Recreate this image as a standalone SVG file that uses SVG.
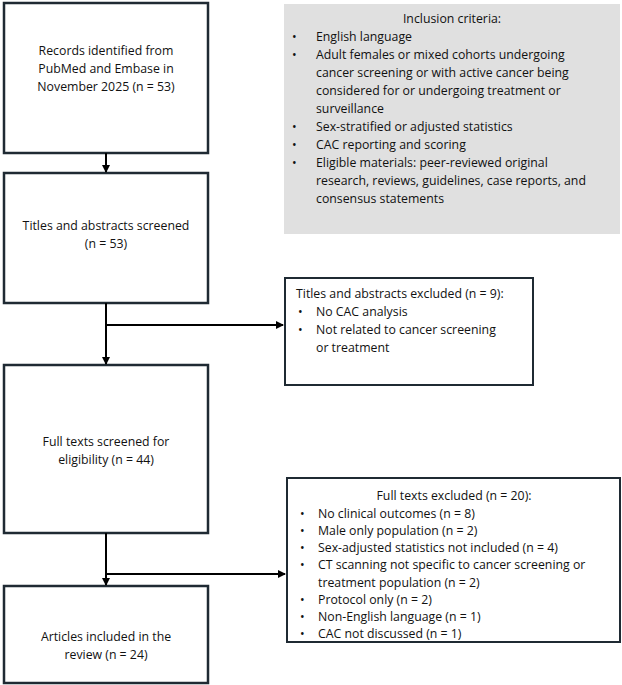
<svg xmlns="http://www.w3.org/2000/svg" width="622" height="685" viewBox="0 0 622 685">
<style>
text{font-family:"Open Sans","Liberation Sans",Arial,sans-serif;font-size:12.3px;fill:#111}
.c{text-anchor:middle}
.box{fill:#fff;stroke:#1f2a33;stroke-width:2.5}
.thin{fill:#fff;stroke:#1f2a33;stroke-width:2}
.ln{stroke:#000;stroke-width:2;fill:none}
</style>
<defs><marker id="ah" markerWidth="8" markerHeight="8" refX="7" refY="4" orient="auto" markerUnits="userSpaceOnUse"><path d="M0,0 L8,4 L0,8 z" fill="#000"/></marker></defs>
<rect width="622" height="685" fill="#fff"/>
<g id="n1"><rect class="box" x="4" y="3" width="204" height="150"/>
<text class="c" x="106" y="55">Records identified from</text><text class="c" x="106" y="73">PubMed and Embase in</text><text class="c" x="106" y="91">November 2025 (n = 53)</text></g>
<g id="n2"><rect class="box" x="4" y="173" width="204" height="130"/>
<text class="c" x="106" y="230">Titles and abstracts screened</text><text class="c" x="106" y="248">(n = 53)</text></g>
<g id="n3"><rect class="box" x="4" y="365" width="204" height="168"/>
<text class="c" x="106" y="446">Full texts screened for</text><text class="c" x="106" y="464">eligibility (n = 44)</text></g>
<g id="n4"><rect class="box" x="4" y="586" width="204" height="97"/>
<text class="c" x="106" y="641">Articles included in the</text><text class="c" x="106" y="659">review  (n = 24)</text></g>
<g id="inc"><rect x="284" y="4" width="336" height="230" fill="#e0e0e0"/>
<text class="c" x="452" y="23">Inclusion criteria:</text>
<g><text x="292" y="41">•</text><text x="316" y="41">English language</text>
<text x="292" y="59">•</text><text x="316" y="59">Adult females or mixed cohorts undergoing</text>
<text x="316" y="77">cancer screening or with active cancer being</text>
<text x="316" y="95">considered for or undergoing treatment or</text>
<text x="316" y="113">surveillance</text>
<text x="292" y="131">•</text><text x="316" y="131">Sex-stratified or adjusted statistics</text>
<text x="292" y="149">•</text><text x="316" y="149">CAC reporting and scoring</text>
<text x="292" y="167">•</text><text x="316" y="167">Eligible materials: peer-reviewed original</text>
<text x="316" y="185">research, reviews, guidelines, case reports, and</text>
<text x="316" y="203">consensus statements</text></g></g>
<g id="ex1"><rect class="thin" x="285" y="278" width="248" height="107"/>
<text x="296" y="298">Titles and abstracts excluded (n = 9):</text>
<text x="298" y="316">•</text><text x="316" y="316">No CAC analysis</text>
<text x="298" y="334">•</text><text x="316" y="334">Not related to cancer screening</text>
<text x="316" y="352">or treatment</text></g>
<g id="ex2"><rect class="thin" x="287" y="478" width="333" height="164"/>
<text class="c" x="454" y="500">Full texts excluded (n = 20):</text>
<text x="300" y="518">•</text><text x="318" y="518">No clinical outcomes (n = 8)</text>
<text x="300" y="535">•</text><text x="318" y="535">Male only population  (n = 2)</text>
<text x="300" y="552">•</text><text x="318" y="552">Sex-adjusted statistics not included  (n = 4)</text>
<text x="300" y="569">•</text><text x="318" y="569">CT scanning not specific to cancer screening or</text>
<text x="318" y="587">treatment population (n = 2)</text>
<text x="300" y="604">•</text><text x="318" y="604">Protocol only  (n = 2)</text>
<text x="300" y="621">•</text><text x="318" y="621">Non-English language (n = 1)</text>
<text x="300" y="638">•</text><text x="318" y="638">CAC not discussed  (n = 1)</text></g>
<g id="connectors">
<line class="ln" x1="106" y1="153" x2="106" y2="172" marker-end="url(#ah)"/>
<line class="ln" x1="106" y1="303" x2="106" y2="364" marker-end="url(#ah)"/>
<line class="ln" x1="106" y1="325" x2="283" y2="325" marker-end="url(#ah)"/>
<line class="ln" x1="106" y1="533" x2="106" y2="585" marker-end="url(#ah)"/>
<line class="ln" x1="106" y1="574" x2="285" y2="574" marker-end="url(#ah)"/>
</g>
</svg>
